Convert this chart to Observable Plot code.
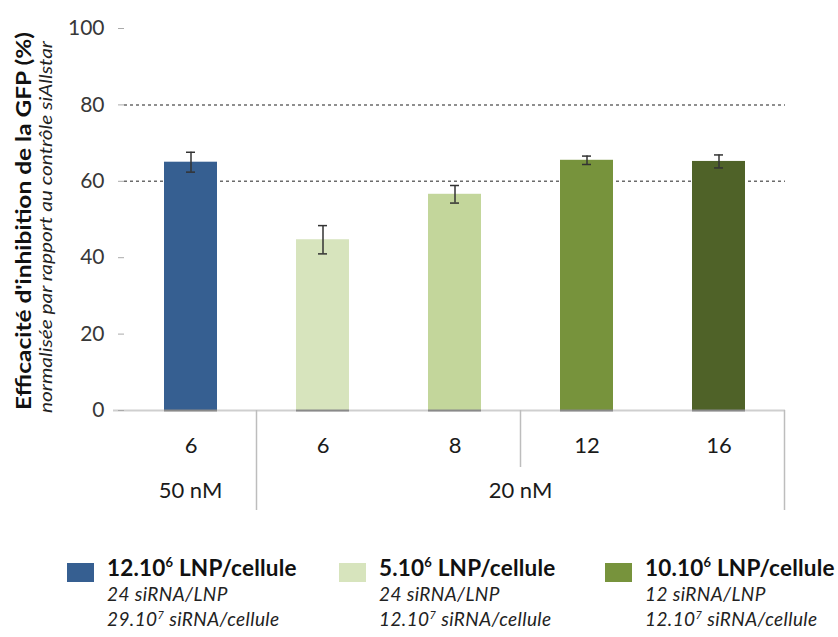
<!DOCTYPE html>
<html><head><meta charset="utf-8">
<script src="https://cdn.jsdelivr.net/npm/d3@7"></script>
<script src="https://cdn.jsdelivr.net/npm/@observablehq/plot@0.6"></script>
<style>
body{margin:0;background:#fff;font-family:Lato,"Open Sans",sans-serif;}
#chart{position:relative;width:838px;height:637px;overflow:hidden;background:#fff}
#chart svg{display:block}
.entry{position:absolute;top:555px;color:#111}
.sw{position:absolute;left:0;top:8px;width:27px;height:19px}
.t1{position:absolute;left:40px;top:0;white-space:nowrap;font-weight:700;font-size:22.5px;line-height:26px;letter-spacing:0.2px}
.t1 sup{font-size:13px;vertical-align:9px;line-height:0}
.t2{position:absolute;left:40px;top:29px;white-space:nowrap;font-style:italic;font-size:19px;line-height:20px;color:#222;letter-spacing:0.4px}
.t3{position:absolute;left:40px;top:54px;white-space:nowrap;font-style:italic;font-size:19px;line-height:20px;color:#222;letter-spacing:0.4px}
.t3 sup{font-size:11px;vertical-align:7px;line-height:0}
</style></head><body><div id="chart"></div>
<script>
// ---- data ----
const ids = ["a", "b", "c", "d", "e"];
const ratioLabels = ["6", "6", "8", "12", "16"];
const values = [65.0, 44.7, 56.6, 65.5, 65.2];
const errors = [2.6, 3.7, 2.3, 1.1, 1.7];
const colors = ["#365F91", "#D7E4BD", "#C3D69B", "#77933C", "#4F6228"];
const concLabels = ["50 nM", "20 nM"];
const concGroups = [["a"], ["b", "c", "d", "e"]];
const shortDividerBefore = ["d"];
const yTicks = [0, 20, 40, 60, 80, 100];
const gridValues = [60, 80];
const yTitle = "Efficacité d'inhibition de la GFP (%)";
const ySubtitle = "normalisée par rapport au contrôle siAllstar";
const legendColors = ["#365F91", "#D7E4BD", "#77933C"];
const legendBase = ["12.10", "5.10", "10.10"];
const legendExp = ["6", "6", "6"];
const legendLine2 = ["24 siRNA/LNP", "24 siRNA/LNP", "12 siRNA/LNP"];
const legendLine3Base = ["29.10", "12.10", "12.10"];
const legendLine3Exp = ["7", "7", "7"];
const legendLeft = [67, 339, 605];

const data = ids.map((id, i) => ({id, value: values[i], err: errors[i], color: colors[i]}));

const plot = Plot.plot({
  width: 838, height: 530,
  marginTop: 28, marginBottom: 120, marginLeft: 124, marginRight: 53,
  style: {fontFamily: "Lato, sans-serif", background: "white", overflow: "visible"},
  x: {domain: ids, paddingInner: 0.6, paddingOuter: 0.3, label: null},
  y: {domain: [0, 100], label: null},
  color: {type: "identity"},
  marks: [
    Plot.ruleY(gridValues, {stroke: "#6b6b6b", strokeDasharray: "3,3", strokeWidth: 1.5}),
    Plot.ruleY([0], {stroke: "#cfcfcf", strokeWidth: 2, insetLeft: -11}),
    Plot.barY(data, {x: "id", y: "value", fill: "color"}),
    Plot.tickY(data, {x: "id", y: 0, stroke: "#8a8a8a", strokeWidth: 2}),
    Plot.ruleX(data, {x: "id", y1: d => d.value - d.err, y2: d => d.value + d.err, stroke: "#333", strokeWidth: 1.5}),
    Plot.tickY(data, {x: "id", y: d => d.value + d.err, stroke: "#333", strokeWidth: 1.5, insetLeft: 22, insetRight: 22}),
    Plot.tickY(data, {x: "id", y: d => d.value - d.err, stroke: "#333", strokeWidth: 1.5, insetLeft: 22, insetRight: 22}),
    Plot.axisY({ticks: yTicks, tickSize: 6, tickPadding: 14, fontSize: 21, stroke: "#aaa", fill: "#383838", label: null}),
    Plot.axisX({tickFormat: d => ratioLabels[ids.indexOf(d)], tickSize: 0, tickPadding: 27, fontSize: 22, fill: "#1a1a1a", label: null})
  ]
});

document.getElementById("chart").appendChild(plot);

// ---- post-render annotations derived from the plot scales ----
const xs = plot.scale("x"), ys = plot.scale("y");
const bw = xs.bandwidth, step = xs.step;
const center = id => xs.apply(id) + bw / 2;
const y0 = ys.apply(0);
const svg = d3.select(plot);
const g = svg.append("g");

concGroups.forEach((grp, gi) => {
  const left = center(grp[0]) - step / 2;
  const right = center(grp[grp.length - 1]) + step / 2;
  g.append("line").attr("x1", right).attr("x2", right).attr("y1", y0).attr("y2", y0 + 100)
    .attr("stroke", "#bdbdbd").attr("stroke-width", 1.5);
  g.append("text").attr("x", (left + right) / 2).attr("y", y0 + 82)
    .attr("text-anchor", "middle").attr("dominant-baseline", "middle")
    .attr("font-size", 22).attr("fill", "#1a1a1a").text(concLabels[gi]);
});
shortDividerBefore.forEach(id => {
  const x = center(id) - step / 2;
  g.append("line").attr("x1", x).attr("x2", x).attr("y1", y0).attr("y2", y0 + 57)
    .attr("stroke", "#bdbdbd").attr("stroke-width", 1.5);
});

const ymid = (ys.apply(0) + ys.apply(100)) / 2;
g.append("text").attr("transform", `translate(26,${ymid + 2}) rotate(-90)`)
  .attr("text-anchor", "middle").attr("dominant-baseline", "middle")
  .attr("font-size", 21).attr("font-weight", 700).attr("fill", "#111")
  .attr("textLength", 378).attr("lengthAdjust", "spacingAndGlyphs").text(yTitle);
g.append("text").attr("transform", `translate(48,${ymid + 8}) rotate(-90)`)
  .attr("text-anchor", "middle").attr("dominant-baseline", "middle")
  .attr("font-size", 17).attr("font-style", "italic").attr("fill", "#222")
  .attr("textLength", 372).attr("lengthAdjust", "spacingAndGlyphs").text(ySubtitle);

// ---- legend ----
const chart = d3.select("#chart");
legendBase.forEach((b, i) => {
  const e = chart.append("div").attr("class", "entry").style("left", legendLeft[i] + "px");
  e.append("div").attr("class", "sw").style("background", legendColors[i]);
  const t1 = e.append("div").attr("class", "t1");
  t1.append("span").text(b);
  t1.append("sup").text(legendExp[i]);
  t1.append("span").text(" LNP/cellule");
  e.append("div").attr("class", "t2").text(legendLine2[i]);
  const t3 = e.append("div").attr("class", "t3");
  t3.append("span").text(legendLine3Base[i]);
  t3.append("sup").text(legendLine3Exp[i]);
  t3.append("span").text(" siRNA/cellule");
});
</script>
</body></html>
